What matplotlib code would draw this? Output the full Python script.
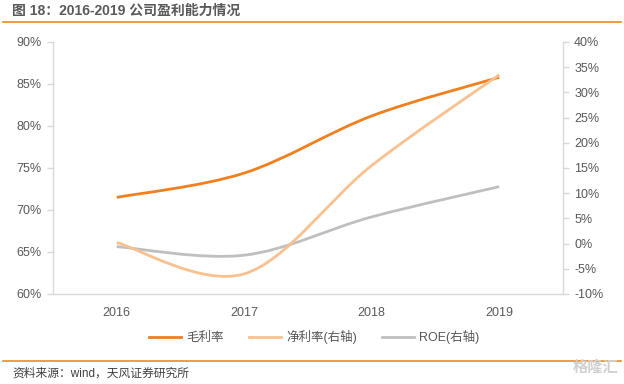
import matplotlib
matplotlib.use("Agg")
import matplotlib.pyplot as plt
from matplotlib.path import Path
from matplotlib.patches import PathPatch
from matplotlib.lines import Line2D
from matplotlib.ticker import FuncFormatter, MultipleLocator
import numpy as np

plt.rcParams['font.family'] = ['Liberation Sans', 'Noto Sans CJK SC', 'DejaVu Sans']

years = ["2016", "2017", "2018", "2019"]
gross_margin = [71.5, 74.4, 81.2, 85.8]
net_margin = [0.2, -6.0, 15.5, 33.5]
roe = [-0.6, -2.3, 5.3, 11.3]

c_gross = "#F0801E"
c_net = "#FAC08F"
c_roe = "#BFBFBF"
txt = "#595959"
spine = "#D9D9D9"

fig = plt.figure(figsize=(6.24, 3.84), dpi=100)
W, H = 624, 384
ax = fig.add_axes([53 / W, 1 - 294 / H, (563 - 53) / W, (294 - 42) / H])
ax2 = ax.twinx()


def smooth_path(xs, ys):
    xs = np.asarray(xs, float)
    ys = np.asarray(ys, float)
    n = len(xs)
    verts = [(xs[0], ys[0])]
    codes = [Path.MOVETO]
    for i in range(n - 1):
        p0 = i - 1 if i > 0 else i
        p3 = i + 2 if i + 2 < n else i + 1
        c1 = (xs[i] + (xs[i + 1] - xs[p0]) / 6, ys[i] + (ys[i + 1] - ys[p0]) / 6)
        c2 = (xs[i + 1] - (xs[p3] - xs[i]) / 6, ys[i + 1] - (ys[p3] - ys[i]) / 6)
        verts += [c1, c2, (xs[i + 1], ys[i + 1])]
        codes += [Path.CURVE4] * 3
    return Path(verts, codes)


x = np.arange(len(years))
ax.add_patch(PathPatch(smooth_path(x, gross_margin), fill=False, ec=c_gross, lw=2, capstyle='butt'))
ax2.add_patch(PathPatch(smooth_path(x, roe), fill=False, ec=c_roe, lw=2, capstyle='butt'))
ax2.add_patch(PathPatch(smooth_path(x, net_margin), fill=False, ec=c_net, lw=2, capstyle='butt'))

ax.set_xlim(-0.5, len(years) - 0.5)
ax.set_ylim(60, 90)
ax2.set_ylim(-10, 40)
ax.yaxis.set_major_locator(MultipleLocator(5))
ax2.yaxis.set_major_locator(MultipleLocator(5))
ax.yaxis.set_major_formatter(FuncFormatter(lambda v, p: f"{v:.0f}%"))
ax2.yaxis.set_major_formatter(FuncFormatter(lambda v, p: f"{v:.0f}%"))
ax.set_xticks(x)
ax.set_xticklabels(years)

for a in (ax, ax2):
    for s in a.spines.values():
        s.set_visible(False)
ax.spines['left'].set_visible(True)
ax.spines['bottom'].set_visible(True)
ax2.spines['right'].set_visible(True)
for s in (ax.spines['left'], ax.spines['bottom'], ax2.spines['right']):
    s.set_color(spine)
    s.set_linewidth(1)

ax.tick_params(axis='y', colors=spine, labelcolor=txt, labelsize=9, length=4, width=1, pad=4)
ax2.tick_params(axis='y', colors=spine, labelcolor=txt, labelsize=9, length=4, width=1, pad=4)
ax.tick_params(axis='x', length=0, labelcolor=txt, labelsize=9, pad=9)

handles = [Line2D([], [], color=c_gross, lw=2),
           Line2D([], [], color=c_net, lw=2),
           Line2D([], [], color=c_roe, lw=2)]
fig.legend(handles, ["毛利率", "净利率(右轴)", "ROE(右轴)"], loc='center',
           bbox_to_anchor=(314 / W, 1 - 337 / H), ncol=3, frameon=False,
           fontsize=9, labelcolor=txt, handlelength=2.6, columnspacing=2.0, handletextpad=0.4)

fig.text(12 / W, 1 - 11 / H, "图 18：2016-2019 公司盈利能力情况", fontsize=10, fontweight='bold',
         color="#595959", va='center', ha='left')
fig.add_artist(Line2D([3 / W, 1 - 3 / W], [1 - 22 / H, 1 - 22 / H], color="#F08A1C", lw=1.2))
fig.add_artist(Line2D([3 / W, 1 - 3 / W], [1 - 361 / H, 1 - 361 / H], color="#F08A1C", lw=1.2))
fig.text(12 / W, 1 - 374 / H, "资料来源：wind，天风证券研究所", fontsize=8.5, color="#404040",
         va='center', ha='left')
fig.text(1 - 6 / W, 1 - 368 / H, "格隆汇", fontsize=11, color="#D0D0D0", va='center', ha='right',
         fontweight='bold')

fig.savefig("out.png", dpi=100)
